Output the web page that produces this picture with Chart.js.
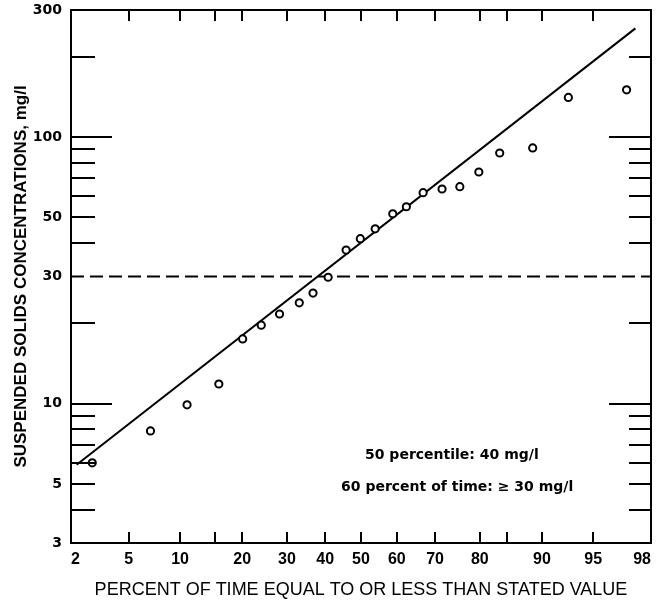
<!DOCTYPE html>
<html>
<head>
<meta charset="utf-8">
<script src="https://cdn.jsdelivr.net/npm/chart.js@4/dist/chart.umd.min.js"></script>
<style>
  html, body { margin: 0; padding: 0; background: #ffffff; }
  canvas { display: block; }
</style>
</head>
<body>
<canvas id="c" width="657" height="603" style="width:657px;height:603px"></canvas>
<script>
// ---- data ----
const percentTime = [2.85, 6.8, 10.9, 15.7, 20.1, 24.0, 28.2, 33.1, 36.7, 40.8, 45.8, 49.8, 54.0, 58.9, 62.6, 67.0, 71.7, 75.8, 79.8, 83.7, 88.8, 92.9, 97.0];
const concentration = [6.0, 7.9, 9.9, 11.85, 17.5, 19.7, 21.7, 23.9, 26.0, 29.8, 37.7, 41.6, 45.3, 51.6, 54.8, 61.9, 63.9, 65.2, 74.0, 87.2, 91.1, 141, 150.5];
const fitPercent = [2.2, 97.4];
const fitValue = [5.9, 256];
const refPercent = [2, 98];
const refValue = [30, 30];
const xTickLabels = [2, 5, 10, 20, 30, 40, 50, 60, 70, 80, 90, 95, 98];
const xTickMarks = [5, 10, 15, 20, 30, 40, 50, 60, 70, 80, 85, 90, 95];
const yTickLabels = [3, 5, 10, 30, 50, 100, 300];
const yMinorMarks = [4, 5, 6, 7, 8, 9, 20, 40, 50, 60, 70, 80, 90, 200];
const yMajorMarks = [10, 100];
const notes = [
  { text: '50 percentile: 40 mg/l', x: 74, y: 6.4 },
  { text: '60 percent of time: \u2265 30 mg/l', x: 75.2, y: 4.87 }
];
const xTitle = 'PERCENT OF TIME EQUAL TO OR LESS THAN STATED VALUE';
const yTitle = 'SUSPENDED SOLIDS CONCENTRATIONS, mg/l';

// ---- normal probability (probit) scale ----
function probit(p) {
  const a = [-3.969683028665376e+01, 2.209460984245205e+02, -2.759285104469687e+02, 1.383577518672690e+02, -3.066479806614716e+01, 2.506628277459239e+00];
  const b = [-5.447609879822406e+01, 1.615858368580409e+02, -1.556989798598866e+02, 6.680131188771972e+01, -1.328068155288572e+01];
  const c = [-7.784894002430293e-03, -3.223964580411365e-01, -2.400758277161838e+00, -2.549732539343734e+00, 4.374664141464968e+00, 2.938163982698783e+00];
  const d = [7.784695709041462e-03, 3.224671290700398e-01, 2.445134137142996e+00, 3.754408661907416e+00];
  const pl = 0.02425, ph = 1 - pl;
  let q, r;
  if (p < pl) {
    q = Math.sqrt(-2 * Math.log(p));
    return (((((c[0]*q+c[1])*q+c[2])*q+c[3])*q+c[4])*q+c[5]) / ((((d[0]*q+d[1])*q+d[2])*q+d[3])*q+1);
  } else if (p <= ph) {
    q = p - 0.5; r = q * q;
    return (((((a[0]*r+a[1])*r+a[2])*r+a[3])*r+a[4])*r+a[5])*q / (((((b[0]*r+b[1])*r+b[2])*r+b[3])*r+b[4])*r+1);
  } else {
    q = Math.sqrt(-2 * Math.log(1 - p));
    return -(((((c[0]*q+c[1])*q+c[2])*q+c[3])*q+c[4])*q+c[5]) / ((((d[0]*q+d[1])*q+d[2])*q+d[3])*q+1);
  }
}
function normCdf(z) {
  const t = 1 / (1 + 0.2316419 * Math.abs(z));
  const dd = 0.3989423 * Math.exp(-z * z / 2);
  let pr = dd * t * (0.3193815 + t * (-0.3565638 + t * (1.781478 + t * (-1.821256 + t * 1.330274))));
  return z > 0 ? 1 - pr : pr;
}

class ProbitScale extends Chart.LinearScale {
  buildTicks() {
    return xTickLabels.map(v => ({ value: v }));
  }
  configure() {
    super.configure();
    this._zMin = probit(this.min / 100);
    this._zMax = probit(this.max / 100);
  }
  getPixelForValue(value) {
    if (value === null || value === undefined || isNaN(value)) return NaN;
    return this.getPixelForDecimal((probit(value / 100) - this._zMin) / (this._zMax - this._zMin));
  }
  getValueForPixel(pixel) {
    const dec = this.getDecimalForPixel(pixel);
    return 100 * normCdf(this._zMin + dec * (this._zMax - this._zMin));
  }
}
ProbitScale.id = 'probit';
ProbitScale.defaults = {};
Chart.register(ProbitScale);

// ---- plugin: frame, inner tick marks, notes ----
const framePlugin = {
  id: 'frameTicks',
  afterDatasetsDraw(chart) {
    const ctx = chart.ctx;
    const area = chart.chartArea;
    const xs = chart.scales.x, ys = chart.scales.y;
    ctx.save();
    ctx.strokeStyle = '#000';
    ctx.lineWidth = 2;
    ctx.lineCap = 'butt';
    ctx.strokeRect(area.left, area.top, area.right - area.left, area.bottom - area.top);
    ctx.beginPath();
    yMinorMarks.forEach(v => {
      const y = Math.round(ys.getPixelForValue(v));
      ctx.moveTo(area.left, y); ctx.lineTo(area.left + 24, y);
      ctx.moveTo(area.right, y); ctx.lineTo(area.right - 22, y);
    });
    yMajorMarks.forEach(v => {
      const y = Math.round(ys.getPixelForValue(v));
      ctx.moveTo(area.left, y); ctx.lineTo(area.left + 41, y);
      ctx.moveTo(area.right, y); ctx.lineTo(area.right - 42, y);
    });
    xTickMarks.forEach(v => {
      const x = Math.round(xs.getPixelForValue(v));
      ctx.moveTo(x, area.bottom); ctx.lineTo(x, area.bottom - 11);
      ctx.moveTo(x, area.top); ctx.lineTo(x, area.top + 11);
    });
    ctx.stroke();
    ctx.fillStyle = '#000';
    ctx.font = 'bold 14px "DejaVu Sans"';
    ctx.textAlign = 'center';
    ctx.textBaseline = 'middle';
    notes.forEach(n => {
      ctx.fillText(n.text, xs.getPixelForValue(n.x), ys.getPixelForValue(n.y));
    });
    ctx.restore();
  }
};

new Chart(document.getElementById('c'), {
  type: 'scatter',
  data: {
    datasets: [
      {
        label: 'observed',
        data: percentTime.map((p, i) => ({ x: p, y: concentration[i] })),
        pointStyle: 'circle',
        pointRadius: 3.6,
        pointBorderWidth: 2,
        pointBorderColor: '#000',
        pointBackgroundColor: '#fff',
        showLine: false,
        order: 0
      },
      {
        label: 'fit',
        data: fitPercent.map((p, i) => ({ x: p, y: fitValue[i] })),
        showLine: true,
        borderColor: '#000',
        borderWidth: 2,
        pointRadius: 0,
        order: 1
      },
      {
        label: '30 mg/l',
        data: refPercent.map((p, i) => ({ x: p, y: refValue[i] })),
        showLine: true,
        borderColor: '#000',
        borderWidth: 2,
        borderDash: [13, 6],
        pointRadius: 0,
        order: 2
      }
    ]
  },
  options: {
    responsive: false,
    animation: false,
    devicePixelRatio: 1,
    layout: { padding: { top: 10, right: 6, left: 0, bottom: 0 } },
    plugins: { legend: { display: false }, tooltip: { enabled: false } },
    scales: {
      x: {
        type: 'probit',
        min: 2,
        max: 98,
        grid: { display: false, drawTicks: false },
        border: { display: false },
        ticks: {
          autoSkip: false,
          maxRotation: 0,
          minRotation: 0,
          align: 'inner',
          padding: 7,
          color: '#000',
          font: { family: '"Liberation Sans", Arial, sans-serif', size: 16, weight: 'bold' },
          callback: v => String(v)
        },
        title: {
          display: true,
          text: xTitle,
          color: '#000',
          font: { family: '"Liberation Sans", Arial, sans-serif', size: 18, weight: 'normal' },
          padding: { top: 0, bottom: 2 }
        },
        afterFit: s => { s.height = 60; s.paddingLeft = 0; s.paddingRight = 0; }
      },
      y: {
        type: 'logarithmic',
        min: 3,
        max: 300,
        grid: { display: false, drawTicks: false },
        border: { display: false },
        afterBuildTicks: s => { s.ticks = yTickLabels.map(v => ({ value: v })); },
        ticks: {
          autoSkip: false,
          padding: 9,
          color: '#000',
          font: { family: '"DejaVu Sans", sans-serif', size: 14, weight: 'bold' },
          callback: v => String(v)
        },
        title: {
          display: true,
          text: yTitle,
          color: '#000',
          font: { family: '"Liberation Sans", Arial, sans-serif', size: 17, weight: 'bold' },
          padding: { top: 11, bottom: 0 }
        },
        afterFit: s => { s.width = 71; s.paddingTop = 0; s.paddingBottom = 0; }
      }
    }
  },
  plugins: [framePlugin]
});
</script>
</body>
</html>
